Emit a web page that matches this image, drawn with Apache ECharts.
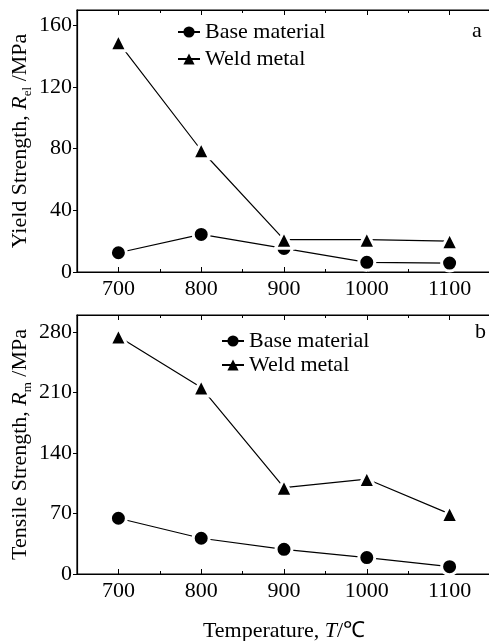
<!DOCTYPE html>
<html>
<head>
<meta charset="utf-8">
<script src="https://cdn.jsdelivr.net/npm/echarts@6/dist/echarts.min.js"></script>
<style>html,body{margin:0;padding:0;background:#fff;}#c{width:489px;height:641px;}</style>
</head>
<body>
<div id="c"></div>
<script>
var temps = [700, 800, 900, 1000, 1100];
var minorTemps = [750, 850, 950, 1050];
var yieldBase = [12.5, 24.4, 15.3, 6.3, 5.8];
var yieldWeld = [149, 79, 21, 21, 20];
var tensileBase = [64.6, 41.4, 28.6, 19, 8.5];
var tensileWeld = [275, 216, 100, 110, 69.6];
var yieldTicks = [0, 40, 80, 120, 160];
var tensileTicks = [0, 70, 140, 210, 280];
var seriesNames = ['Base material', 'Weld metal'];

var FONT = '"Liberation Serif", "Times New Roman", serif';
var chart = echarts.init(document.getElementById('c'));

function pairs(xs, ys) { return xs.map(function (x, i) { return [x, ys[i]]; }); }
function plain(v) { return String(v); }

function xAxes(gridIndex, name) {
  var base = { type: 'value', gridIndex: gridIndex, min: 650, max: 1150, splitLine: { show: false } };
  return [
    Object.assign({}, base, {
      position: 'bottom',
      axisLine: { show: true, lineStyle: { color: '#000', width: 1.2 } },
      axisTick: { show: true, inside: true, length: 5, customValues: temps, lineStyle: { color: '#000' } },
      axisLabel: { show: true, customValues: temps, formatter: plain, margin: 6, color: '#000', fontFamily: FONT, fontSize: 22 },
      name: name || '', nameLocation: 'middle', nameGap: 46,
      nameTextStyle: { color: '#000', fontFamily: FONT, fontSize: 22, rich: { i: { fontStyle: 'italic', fontFamily: FONT, fontSize: 22 } } }
    }),
    Object.assign({}, base, {
      position: 'bottom',
      axisLine: { show: false },
      axisTick: { show: true, inside: true, length: 3, customValues: minorTemps, lineStyle: { color: '#000' } },
      axisLabel: { show: false }
    }),
    Object.assign({}, base, {
      position: 'top',
      axisLine: { show: true, lineStyle: { color: '#000', width: 1.2 } },
      axisTick: { show: true, inside: true, length: 5, customValues: temps, lineStyle: { color: '#000' } },
      axisLabel: { show: false }
    }),
    Object.assign({}, base, {
      position: 'top',
      axisLine: { show: false },
      axisTick: { show: true, inside: true, length: 3, customValues: minorTemps, lineStyle: { color: '#000' } },
      axisLabel: { show: false }
    })
  ];
}

function yAxis(gridIndex, max, ticks, name) {
  return {
    type: 'value', gridIndex: gridIndex, min: 0, max: max, position: 'left',
    splitLine: { show: false },
    axisLine: { show: true, lineStyle: { color: '#000', width: 1.2 } },
    axisTick: { show: true, inside: false, length: 4, customValues: ticks, lineStyle: { color: '#000' } },
    axisLabel: { customValues: ticks, formatter: plain, margin: 5, color: '#000', fontFamily: FONT, fontSize: 22 },
    name: name, nameLocation: 'middle', nameGap: 43, nameMoveOverlap: false,
    nameTextStyle: {
      color: '#000', fontFamily: FONT, fontSize: 22,
      rich: {
        i: { fontStyle: 'italic', fontFamily: FONT, fontSize: 22, color: '#000' },
        sub: { fontFamily: FONT, fontSize: 13, color: '#000', verticalAlign: 'bottom', padding: [14, 0, 0, 0] }
      }
    }
  };
}

function lineSeries(name, data, symbol, xi, yi, size) {
  return {
    type: 'line', name: name, data: data, xAxisIndex: xi, yAxisIndex: yi,
    symbol: symbol, symbolSize: size, showAllSymbol: true,
    lineStyle: { color: '#000', width: 1.2 },
    itemStyle: { color: '#000', borderColor: '#fff', borderWidth: 3 },
    emphasis: { disabled: true },
    animation: false
  };
}

var legendCommon = {
  orient: 'vertical', itemWidth: 22, itemHeight: 14,
  selectedMode: false, data: seriesNames,
  itemStyle: { borderWidth: 0 },
  textStyle: { color: '#000', fontFamily: FONT, fontSize: 22, lineHeight: 22 }
};

chart.setOption({
  backgroundColor: '#fff',
  animation: false,
  grid: [
    { left: 77, top: 10, width: 414, height: 262, show: true, borderColor: '#000', borderWidth: 1.2, outerBoundsMode: 'none', containLabel: false },
    { left: 77, top: 315, width: 414, height: 259, show: true, borderColor: '#000', borderWidth: 1.2, outerBoundsMode: 'none', containLabel: false }
  ],
  xAxis: xAxes(0, '').concat(xAxes(1, 'Temperature, {i|T}/\u2103')),
  yAxis: [
    yAxis(0, 170, yieldTicks, 'Yield Strength, {i|R}{sub|el} /MPa'),
    yAxis(1, 300, tensileTicks, 'Tensile Strength, {i|R}{sub|m} /MPa')
  ],
  legend: [
    Object.assign({}, legendCommon, { left: 172, top: 16, itemGap: 5 }),
    Object.assign({}, legendCommon, { left: 216, top: 325, itemGap: 2 })
  ],
  graphic: [
    { type: 'text', left: 472, top: 20, style: { text: 'a', font: '22px ' + FONT, fill: '#000' } },
    { type: 'text', left: 475, top: 321, style: { text: 'b', font: '22px ' + FONT, fill: '#000' } }
  ],
  series: [
    lineSeries(seriesNames[0], pairs(temps, yieldBase), 'circle', 0, 0, 16),
    lineSeries(seriesNames[1], pairs(temps, yieldWeld), 'triangle', 0, 0, 17),
    lineSeries(seriesNames[0], pairs(temps, tensileBase), 'circle', 4, 1, 16),
    lineSeries(seriesNames[1], pairs(temps, tensileWeld), 'triangle', 4, 1, 17)
  ]
});
</script>
</body>
</html>
